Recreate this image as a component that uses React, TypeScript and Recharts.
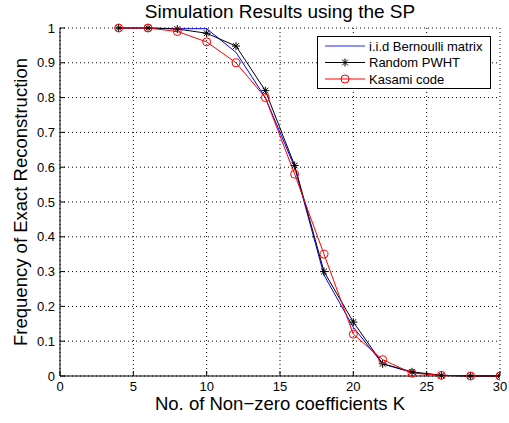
import { LineChart, Line, XAxis, YAxis, CartesianGrid } from "recharts";

const K = [4, 6, 8, 10, 12, 14, 16, 18, 20, 22, 24, 26, 28, 30];
const bernoulli = [1, 1, 0.998, 0.998, 0.93, 0.8, 0.6, 0.29, 0.14, 0.035, 0.01, 0.002, 0, 0];
const pwht = [1, 1, 0.997, 0.985, 0.948, 0.82, 0.605, 0.3, 0.155, 0.035, 0.012, 0.002, 0, 0];
const kasami = [1, 1, 0.99, 0.96, 0.9, 0.8, 0.58, 0.35, 0.12, 0.047, 0.008, 0.002, 0, 0];

const xTicks = [0, 5, 10, 15, 20, 25, 30];
const yTicks = [0, 0.1, 0.2, 0.3, 0.4, 0.5, 0.6, 0.7, 0.8, 0.9, 1];

const FONT = "'Liberation Sans', Arial, sans-serif";

const data = K.map((k, i) => ({ k, bernoulli: bernoulli[i], pwht: pwht[i], kasami: kasami[i] }));

function Star(props: any) {
  const { cx, cy } = props;
  if (cx == null || cy == null) return null;
  const r = 4;
  const d = r * 0.72;
  return (
    <g stroke="#000" strokeWidth={1}>
      <line x1={cx - r} y1={cy} x2={cx + r} y2={cy} />
      <line x1={cx} y1={cy - r} x2={cx} y2={cy + r} />
      <line x1={cx - d} y1={cy - d} x2={cx + d} y2={cy + d} />
      <line x1={cx - d} y1={cy + d} x2={cx + d} y2={cy - d} />
    </g>
  );
}

function LegendBox() {
  const rows = [
    { name: "i.i.d Bernoulli matrix", color: "#6f6fff", marker: null },
    { name: "Random PWHT", color: "#000", marker: "star" },
    { name: "Kasami code", color: "#ff0000", marker: "circle" },
  ];
  return (
    <svg width={175} height={54} style={{ position: "absolute", left: 317, top: 36 }}>
      <rect x={0.5} y={0.5} width={173} height={52} fill="#fff" stroke="#000" strokeWidth={1} />
      {rows.map((r, i) => {
        const y = 10 + i * 16.5;
        return (
          <g key={r.name}>
            <line x1={8} y1={y} x2={48} y2={y} stroke={r.color} strokeWidth={r.marker ? 1 : 1.5} />
            {r.marker === "star" && <Star cx={28} cy={y} />}
            {r.marker === "circle" && <circle cx={28} cy={y} r={4} fill="none" stroke="#ff0000" />}
            <text x={52} y={y + 4.5} fontSize={13} fontFamily={FONT} fill="#000">
              {r.name}
            </text>
          </g>
        );
      })}
    </svg>
  );
}

export default function App() {
  const tickStyle = { fontSize: 13, fill: "#000", fontFamily: FONT };
  return (
    <div style={{ position: "absolute", left: 0, top: 0, width: 509, height: 423, background: "#fff" }}>
      <div
        style={{
          position: "absolute",
          left: 60,
          width: 440,
          top: 0,
          textAlign: "center",
          fontFamily: FONT,
          fontSize: 19,
          lineHeight: "24px",
          color: "#000",
        }}
      >
        Simulation Results using the SP
      </div>
      <LineChart width={509} height={423} data={data} margin={{ top: 28, right: 9, bottom: 0, left: 0 }}>
        <CartesianGrid
          stroke="#000"
          strokeDasharray="1 3"
          strokeWidth={1}
          horizontalValues={yTicks}
          verticalValues={xTicks}
        />
        <XAxis
          dataKey="k"
          type="number"
          domain={[0, 30]}
          ticks={xTicks}
          tick={tickStyle}
          tickSize={-5}
          tickMargin={11}
          height={47}
          stroke="#000"
          allowDataOverflow
          label={{
            value: "No. of Non\u2212zero coefficients K",
            position: "insideBottom",
            offset: 13,
            fontSize: 18.5,
            fill: "#000",
            fontFamily: FONT,
          }}
        />
        <XAxis
          xAxisId="top"
          dataKey="k"
          type="number"
          orientation="top"
          domain={[0, 30]}
          ticks={xTicks}
          tick={false}
          tickSize={-5}
          stroke="#000"
          height={0}
        />
        <YAxis
          type="number"
          domain={[0, 1]}
          ticks={yTicks}
          tick={tickStyle}
          tickFormatter={(v: number) => String(Math.round(v * 10) / 10)}
          tickSize={-5}
          tickMargin={10}
          width={60}
          stroke="#000"
          label={{
            value: "Frequency of Exact Reconstruction",
            angle: -90,
            position: "insideLeft",
            offset: 20,
            style: { textAnchor: "middle" },
            fontSize: 18.5,
            fill: "#000",
            fontFamily: FONT,
          }}
        />
        <YAxis
          yAxisId="right"
          type="number"
          orientation="right"
          domain={[0, 1]}
          ticks={yTicks}
          tick={false}
          tickSize={-5}
          width={0}
          stroke="#000"
        />
        <Line dataKey="bernoulli" stroke="#0000ff" strokeWidth={1} dot={false} isAnimationActive={false} type="linear" />
        <Line
          dataKey="pwht"
          stroke="#000"
          strokeWidth={1}
          dot={(p: any) => <Star {...p} key={p.index} />}
          isAnimationActive={false}
          type="linear"
        />
        <Line
          dataKey="kasami"
          stroke="#ff0000"
          strokeWidth={1}
          dot={{ r: 4, fill: "none", stroke: "#ff0000", strokeWidth: 1 }}
          isAnimationActive={false}
          type="linear"
        />
      </LineChart>
      <LegendBox />
    </div>
  );
}
